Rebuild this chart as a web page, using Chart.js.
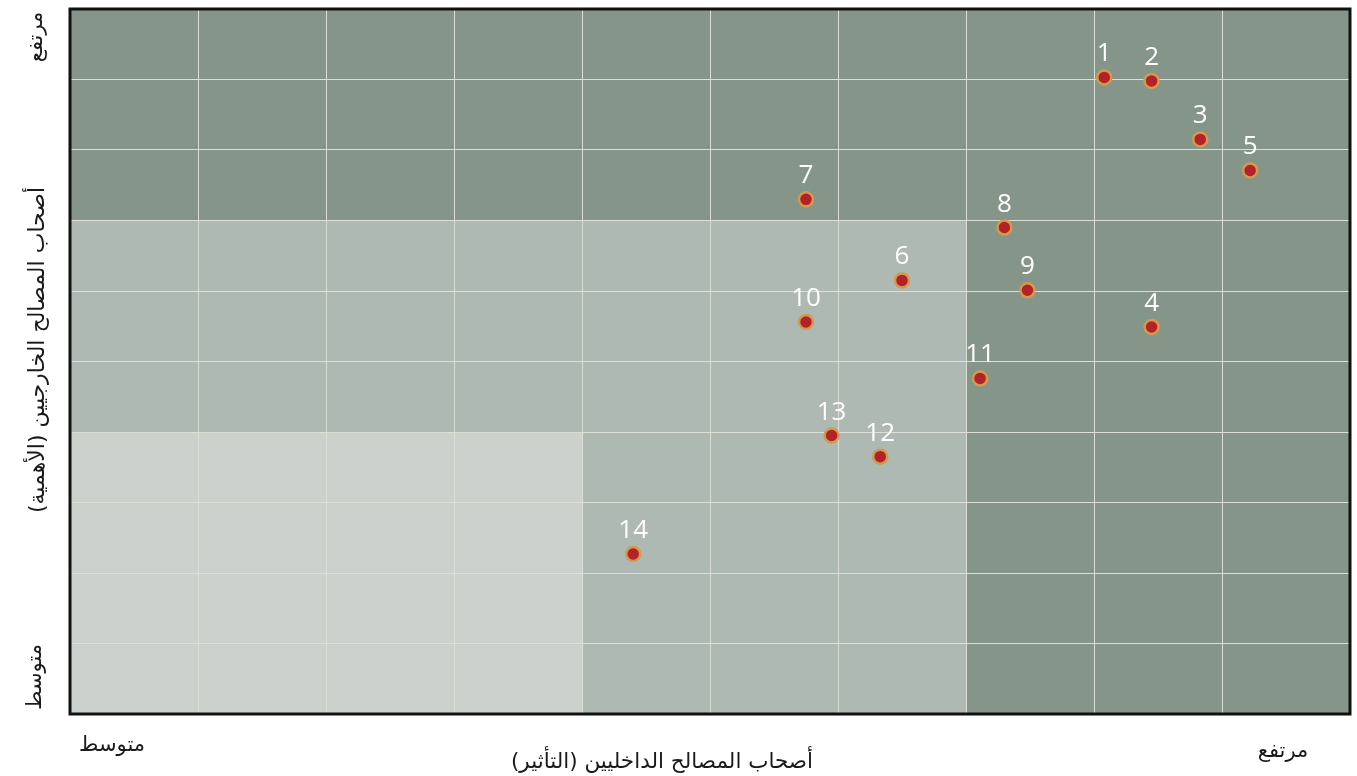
<!DOCTYPE html>
<html lang="ar">
<head>
<meta charset="utf-8">
<script src="https://cdn.jsdelivr.net/npm/chart.js@4/dist/chart.umd.min.js"></script>
<style>
  html, body { margin: 0; padding: 0; background: #ffffff; overflow: hidden; }
  #wrap { width: 1357px; height: 776px; }
  canvas { display: block; }
</style>
</head>
<body>
<div id="wrap"><canvas id="c" width="1357" height="776"></canvas></div>
<script>
// ---- data ----
const pointLabels = ['1','2','3','4','5','6','7','8','9','10','11','12','13','14'];
const internalInfluence = [8.08, 8.45, 8.83, 8.45, 9.22, 6.50, 5.75, 7.30, 7.48, 5.75, 7.11, 6.33, 5.95, 4.40];
const externalImportance = [9.03, 8.98, 8.15, 5.49, 7.71, 6.15, 7.30, 6.90, 6.01, 5.56, 4.76, 3.65, 3.95, 2.27];
const axisRange = [0, 10];
const zoneBreaks = [4, 7];
const xTitle = 'أصحاب المصالح الداخليين (التأثير)';
const yTitle = 'أصحاب المصالح الخارجيين (الأهمية)';
const lowLabel = 'متوسط';
const highLabel = 'مرتفع';

const arabicFont = '"DejaVu Sans", "Noto Sans", sans-serif';

const zonesPlugin = {
  id: 'zones',
  beforeDraw(chart) {
    const { ctx, chartArea: a, scales: { x, y } } = chart;
    ctx.save();
    ctx.fillStyle = '#86958a';
    ctx.fillRect(a.left, a.top, a.right - a.left, a.bottom - a.top);
    const x7 = x.getPixelForValue(zoneBreaks[1]);
    const y7 = y.getPixelForValue(zoneBreaks[1]);
    ctx.fillStyle = '#afb9b3';
    ctx.fillRect(a.left, y7, x7 - a.left, a.bottom - y7);
    const x4 = x.getPixelForValue(zoneBreaks[0]);
    const y4 = y.getPixelForValue(zoneBreaks[0]);
    ctx.fillStyle = '#cbd1cc';
    ctx.fillRect(a.left, y4, x4 - a.left, a.bottom - y4);
    ctx.restore();
  },
  afterDatasetsDraw(chart) {
    const { ctx, chartArea: a } = chart;
    ctx.save();
    const meta = chart.getDatasetMeta(0);
    ctx.fillStyle = '#ffffff';
    ctx.font = '26px "Open Sans", "Noto Sans", sans-serif';
    ctx.textAlign = 'center';
    ctx.textBaseline = 'alphabetic';
    meta.data.forEach((pt, i) => {
      ctx.fillText(pointLabels[i], pt.x, pt.y - 16);
    });
    ctx.strokeStyle = '#111111';
    ctx.lineWidth = 3;
    ctx.strokeRect(a.left, a.top, a.right - a.left, a.bottom - a.top);
    ctx.restore();
  },
  afterDraw(chart) {
    const { ctx, chartArea: a } = chart;
    ctx.save();
    ctx.fillStyle = '#1a1a1a';
    ctx.direction = 'rtl';
    ctx.textBaseline = 'middle';
    ctx.textAlign = 'center';
    ctx.font = '21.5px ' + arabicFont;
    ctx.fillText(xTitle, a.left + 592, a.bottom + 48);
    ctx.font = '21px ' + arabicFont;
    ctx.fillText(lowLabel, a.left + 42, a.bottom + 32);
    ctx.fillText(highLabel, a.right - 67, a.bottom + 38);
    const rot = (txt, cx, cy, font) => {
      ctx.save();
      ctx.translate(cx, cy);
      ctx.rotate(-Math.PI / 2);
      ctx.font = font;
      ctx.textAlign = 'center';
      ctx.fillText(txt, 0, 0);
      ctx.restore();
    };
    rot(yTitle, 38, 350, '22px ' + arabicFont);
    rot(highLabel, 37, 37, '21px ' + arabicFont);
    rot(lowLabel, 36, 677, '21px ' + arabicFont);
    ctx.restore();
  }
};

new Chart(document.getElementById('c'), {
  type: 'scatter',
  data: {
    datasets: [{
      data: internalInfluence.map((v, i) => ({ x: v, y: externalImportance[i] })),
      backgroundColor: '#b22228',
      borderColor: '#d39a4d',
      borderWidth: 2.5,
      pointRadius: 7,
      pointHoverRadius: 7
    }]
  },
  options: {
    responsive: false,
    animation: false,
    devicePixelRatio: 1,
    layout: { autoPadding: false, padding: { left: 70, top: 9, right: 7, bottom: 62 } },
    plugins: { legend: { display: false }, tooltip: { enabled: false } },
    scales: {
      x: {
        type: 'linear', min: axisRange[0], max: axisRange[1],
        ticks: { display: false, stepSize: 1 },
        grid: { color: '#dcdfd3', lineWidth: 1, drawTicks: false },
        border: { display: false }
      },
      y: {
        type: 'linear', min: axisRange[0], max: axisRange[1],
        ticks: { display: false, stepSize: 1 },
        grid: { color: '#dcdfd3', lineWidth: 1, drawTicks: false },
        border: { display: false }
      }
    }
  },
  plugins: [zonesPlugin]
});
</script>
</body>
</html>
